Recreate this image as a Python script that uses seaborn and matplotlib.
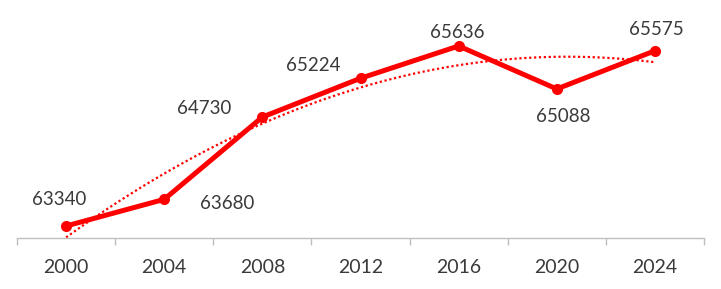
import numpy as np
import matplotlib.pyplot as plt
import seaborn as sns
import pandas as pd

# values
years = ['2000', '2004', '2008', '2012', '2016', '2020', '2024']
values = [63340, 63680, 64730, 65224, 65636, 65088, 65575]

df = pd.DataFrame({'pos': np.arange(len(years)), 'year': years, 'value': values})

sns.set_style("white")
plt.rcParams['font.family'] = ['Lato', 'DejaVu Sans']

fig = plt.figure(figsize=(7.21, 2.89), dpi=100)
ax = fig.add_axes([17 / 721, 1 - 238 / 289, 687 / 721, 228 / 289])

# polynomial (order 2) trendline like the spreadsheet one
coef = np.polyfit(df['pos'], df['value'], 2)
xs = np.linspace(0, len(years) - 1, 100)
sns.lineplot(x=xs, y=np.polyval(coef, xs), ax=ax, color='#FF0000',
             linestyle=(0, (1, 1.2)), linewidth=1.6)

sns.lineplot(data=df, x='pos', y='value', ax=ax, color='#FF0000', linewidth=3.6,
             marker='o', markersize=8, markeredgewidth=0)

# data labels: (dx, dy) offsets in points
offsets = [(-5, 19), (45, -3), (-42, 6), (-34, 9), (-1, 10), (5, -20), (1, 15)]
for i, (v, (dx, dy)) in enumerate(zip(values, offsets)):
    ax.annotate(str(v), (i, v), xytext=(dx, dy), textcoords='offset points',
                ha='center', va='center', fontsize=13.5, color='#3A3A3A')

ax.set_xlim(-0.5, len(years) - 0.5)
ax.set_ylim(63187, 66095)
ax.set_xticks(np.arange(-0.5, len(years)), labels=[''] * (len(years) + 1))
ax.set_xticks(np.arange(len(years)), labels=years, minor=True)
ax.tick_params(axis='x', which='major', length=5, width=1, color='#BFBFBF', direction='out', bottom=True)
ax.tick_params(axis='x', which='minor', length=0, labelsize=14, labelcolor='#3A3A3A', pad=15)
ax.set_yticks([])
ax.set_xlabel('')
ax.set_ylabel('')
for s in ['top', 'right', 'left']:
    ax.spines[s].set_visible(False)
ax.spines['bottom'].set_color('#BFBFBF')
ax.spines['bottom'].set_linewidth(1)

fig.savefig('out.png', dpi=100)
